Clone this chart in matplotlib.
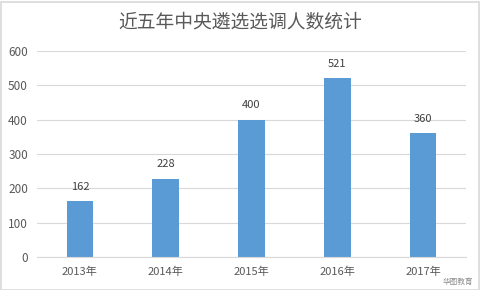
import matplotlib.pyplot as plt
import matplotlib.patches as mpatches

plt.rcParams['font.family'] = ['Noto Sans CJK SC', 'DejaVu Sans']

years = ['2013年', '2014年', '2015年', '2016年', '2017年']
counts = [162, 228, 400, 521, 360]
yticks = [0, 100, 200, 300, 400, 500, 600]

fig = plt.figure(figsize=(4.81, 2.90), dpi=100)
ax = fig.add_axes([37/481, 1 - 257/290, 429/481, 206/290])

x = range(len(years))
bars = ax.bar(x, counts, width=0.31, color='#5b9bd5', zorder=2)
for xi, v in zip(x, counts):
    ax.text(xi, v + 28, str(v), ha='center', va='bottom', fontsize=8, color='#404040')

ax.set_xlim(-0.5, 4.5)
ax.set_ylim(0, 600)
ax.set_yticks(yticks)
ax.set_xticks(list(x))
ax.set_xticklabels(years)
ax.grid(axis='y', color='#d9d9d9', linewidth=0.8, zorder=0)
for s in ['top', 'right', 'left']:
    ax.spines[s].set_visible(False)
ax.spines['bottom'].set_color('#d9d9d9')
ax.tick_params(axis='both', length=0, labelcolor='#595959')
ax.tick_params(axis='y', pad=6.5, labelsize=8.5)
ax.tick_params(axis='x', pad=7, labelsize=8)

fig.text(0.5, 1 - 22/290, '近五年中央遴选选调人数统计', ha='center', va='center',
         fontsize=13.5, color='#595959')
fig.text(473/481, 1 - 282/290, '华图教育', ha='right', va='center',
         fontsize=5.5, color='#8c8c8c')

border = mpatches.Rectangle((0.5/481, 0.5/290), 479/481, 288/290, transform=fig.transFigure,
                            fill=False, edgecolor='#d9d9d9', linewidth=1.2)
fig.patches.append(border)

fig.savefig('out.png', dpi=100)
